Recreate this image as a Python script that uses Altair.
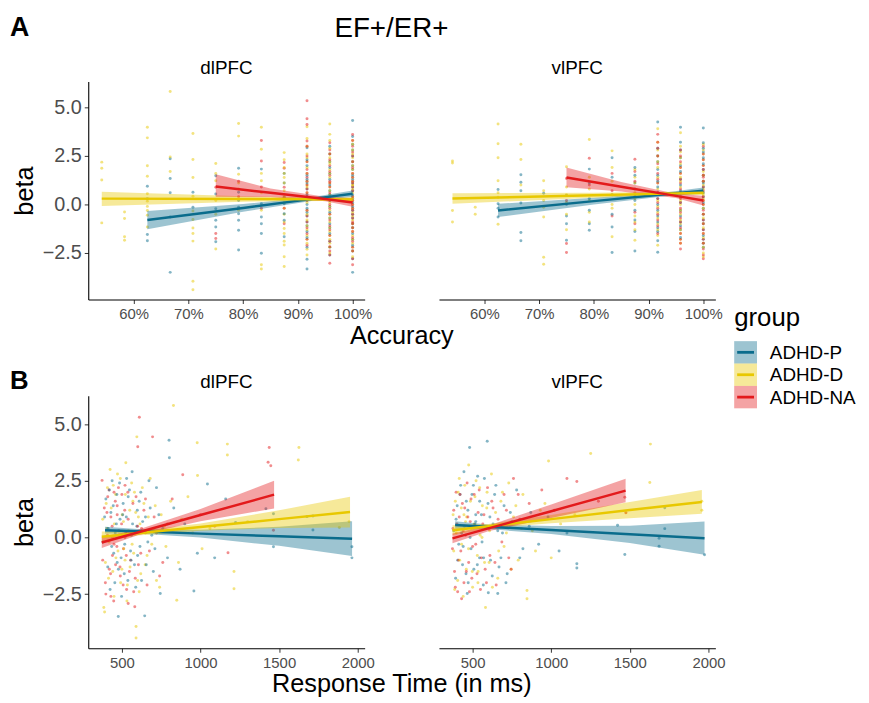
import altair as alt
import pandas as pd

GROUPS = ["ADHD-P", "ADHD-D", "ADHD-NA"]
LINE_COLORS = ["#0A6C8C", "#E8C800", "#E31A1C"]

ACC_TICKS = [0.6, 0.7, 0.8, 0.9, 1.0]
RT_TICKS = [500, 1000, 1500, 2000]
BETA_TICKS = [-2.5, 0.0, 2.5, 5.0]

# ---------------- Row A: accuracy (proportion correct) vs beta ----------------
A_DL_P = {
    0.625: [0.94, 0.29, -1.55, -1.87],
    0.6667: [2.35, 1.34, 0.6, -0.65, -3.5],
    0.7083: [0.63, -0.14],
    0.75: [1.48, 0.54, -0.22, -0.82, -1.16, -1.92],
    0.7917: [1.87, 0.63, 0.2, -0.14, -0.48, -0.82, -1.33, -2.35],
    0.8333: [1.82, 0.03, -0.65, -0.99, -1.5, -2.52],
    0.875: [0.37, 0.03, -0.48, -0.82, -1.67, 1.1, 1.6],
    0.9167: [2.92, 2.3, 1.5, 0.8, 0.3, -0.2, -0.9, -1.4, -2.82, -3.33, 1.1, -0.6,
             2.0, 1.3, 0.5, 0.0, -0.4, -1.1, -1.7, -2.2],
    0.9583: [2.6, 1.9, 1.3, 0.7, 0.2, -0.4, -1.0, -1.5, -2.6, 3.0,
             2.2, 1.6, 1.0, 0.5, -0.1, -0.7, -1.2, -1.9, -2.2],
    1.0: [4.32, 3.1, 2.5, 1.8, 1.3, 0.7, 0.3, -0.1, -0.5, -1.0, -1.5, -2.1, -3.5, 2.2, 0.9,
          3.5, 2.8, 2.0, 1.5, 1.1, 0.5, 0.1, -0.3, -0.7, -1.2, -1.8, -2.4, -2.8],
}
A_DL_D = {
    0.5417: [2.18, 1.87, 1.26, -0.95],
    0.5833: [-0.39, -0.73, -1.67, -1.84],
    0.625: [3.98, 3.43, 1.99, 1.45, 0.55, 0.17, -0.1, -0.31, -0.56, -1.16],
    0.6667: [5.82, 2.45, 1.7],
    0.7083: [3.66, 2.31, 1.39, 0.42, -0.34, -0.78, -1.21, -1.5, -1.89, -3.96, -4.39],
    0.75: [2.11, 1.22, 0.2, -2.3, 1.6, -0.5],
    0.7917: [4.17, 3.52, 1.56, 1.1, 0.8, -0.3],
    0.8333: [3.98, 2.84, 1.22, 0.6, -0.3, -3.11, -3.33, 1.6],
    0.875: [2.67, 1.39, -0.2, -1.24, -2.09, -2.69, -3.2, 0.7, 1.9, -0.9,
             2.3, 1.6, 1.1, 0.4, 0.1, -0.5, -1.5, -1.9],
    0.9167: [4.0, 3.4, 2.6, 1.9, 1.2, 0.6, 0.1, -0.5, -1.1, -1.6, -2.31, -2.0, 0.9, 2.2,
             3.0, 2.4, 1.6, 1.0, 0.3, -0.3, -0.8, -1.3, -1.8, -2.6],
    0.9583: [4.15, 3.61, 2.9, 2.4, 1.8, 1.4, 0.9, 0.5, 0.1, -0.3, -0.7, -1.2, -1.6, -2.0, 2.1, 1.1,
             3.3, 2.6, 2.2, 1.6, 0.7, 0.3, -0.1, -0.5, -0.9, -1.4, -1.8, -2.2, -2.5],
    1.0: [3.3, 2.8, 2.4, 2.0, 1.6, 1.2, 0.8, 0.4, 0.0, -0.4, -0.8, -1.2, -1.6, -2.0, -2.4, -2.7, 1.0, 0.2, -0.6,
          3.1, 2.6, 2.2, 1.8, 1.4, 1.0, 0.6, 0.3, -0.2, -1.0, -1.4, -1.8, -2.2],
}
A_DL_NA = {
    0.75: [0.88, -1.5, -1.75],
    0.7917: [1.2, 0.4],
    0.8333: [3.3, 2.24, 0.9, -0.2],
    0.875: [2.16, 1.87, 0.88, -0.2, -1.0],
    0.9167: [5.34, 4.42, 4.12, 3.27, 2.5, 1.8, 1.0, 0.4, -0.3, -0.9, -1.5, -2.1, 1.4, 0.6,
             3.0, 2.2, 1.6, 1.2, 0.8, 0.2, -0.6, -1.2, -1.8],
    0.9583: [3.18, 2.6, 2.0, 1.5, 0.9, 0.3, -0.2, -0.8, -1.3, -1.9, -2.18, -2.6, -3.03, 1.2,
             2.8, 2.3, 1.7, 1.1, 0.6, 0.0, -0.5, -1.1, -1.6, -2.4],
    1.0: [3.6, 3.0, 2.5, 1.9, 1.4, 0.9, 0.4, 0.0, -0.5, -0.9, -1.4, -1.9, -2.4, -3.11, 1.1, -0.2,
          3.3, 2.7, 2.2, 1.6, 1.2, 0.7, 0.2, -0.3, -0.7, -1.2, -1.7, -2.2, -2.8, -1.0],
}

A_VL_P = {
    0.625: [0.77, 0.03, -0.65, -0.2],
    0.6667: [1.53, 1.14, 0.71, 0.07, -1.45, -1.87],
    0.7083: [0.58],
    0.75: [0.46, 0.0, -0.99, -1.84, -0.6],
    0.7917: [1.82, 1.1, 0.3, -0.3, -1.0, -1.33],
    0.8333: [2.41, 1.4, 0.5, -0.5, -1.16, -2.48],
    0.875: [1.5, 0.8, 0.2, -0.8, -1.4, -2.4, 0.5, 1.9, 1.1, -0.3],
    0.9167: [4.25, 2.9, 2.2, 1.5, 0.9, 0.3, -0.3, -0.9, -1.4, -1.87, -2.46,
             2.5, 1.8, 1.2, 0.6, 0.0, -0.6, -1.2],
    0.9583: [3.98, 3.2, 2.4, 1.7, 1.0, 0.4, -0.3, -0.9, -1.3, -1.7,
             2.8, 2.0, 1.3, 0.7, 0.1, -0.6, -1.1],
    1.0: [3.94, 3.18, 2.7, 2.1, 1.5, 0.9, 0.4, -0.2, -0.8, -1.3, -1.8, -2.2, 1.2,
          2.9, 2.4, 1.8, 1.1, 0.6, 0.1, -0.5, -1.0, -1.6, -2.0],
}
A_VL_D = {
    0.5417: [2.24, 2.13, -0.31, -0.9],
    0.5833: [-0.14, -0.51],
    0.625: [4.15, 3.13, 2.41, 1.22, 0.37, -1.02, 0.6],
    0.6667: [3.1, 2.31, 1.0],
    0.7083: [1.22, 0.71, 0.2, -0.14, -0.65, -2.72, -3.08],
    0.75: [1.94, 0.9, 0.1, -0.5, -1.3, 0.5],
    0.7917: [3.35, 1.4, 0.8, 0.2, -0.4, -0.9],
    0.8333: [2.76, 1.9, 1.2, 0.5, -0.2, -1.67, 0.0],
    0.875: [1.8, 1.1, 0.6, 0.0, -0.6, -1.3, -1.84, 0.3, 1.4, -0.9],
    0.9167: [3.9, 3.2, 2.5, 1.9, 1.4, 0.8, 0.2, -0.4, -1.0, -1.6, -2.1, 0.5,
             2.8, 2.2, 1.1, -0.1, -0.7, -1.3],
    0.9583: [3.69, 3.0, 2.4, 1.9, 1.4, 0.9, 0.4, 0.0, -0.5, -1.0, -1.5, -2.0, 1.2,
             2.7, 2.1, 1.6, 0.6, 0.2, -0.3, -0.8, -1.3, -1.8],
    1.0: [3.1, 2.6, 2.0, 1.5, 1.0, 0.5, 0.0, -0.5, -1.0, -1.5, -2.0, -2.5, -2.69, 0.8, 0.2,
          2.8, 2.3, 1.7, 1.2, 0.6, 0.3, -0.2, -0.7, -1.2, -1.7, -2.2],
}
A_VL_NA = {
    0.75: [1.34, -2.01, -2.48, 0.2],
    0.7917: [2.38, 1.0],
    0.8333: [1.6, 0.7, -0.6],
    0.875: [2.33, 1.2, 0.4, -0.4, 1.7, -1.0],
    0.9167: [3.61, 2.9, 2.1, 1.6, 1.1, 0.6, 0.1, -0.5, -1.1, -1.5,
             3.2, 2.5, 1.3, 0.3, -0.2, -0.8],
    0.9583: [2.8, 2.2, 1.6, 1.1, 0.6, 0.1, -0.4, -0.9, -1.5, -2.0, -2.3,
             2.5, 1.9, 1.3, 0.8, 0.3, -0.2, -0.7, -1.2, -1.8],
    1.0: [3.0, 2.3, 1.8, 1.2, 0.7, 0.2, -0.3, -0.8, -1.3, -1.8, -2.3, -2.6, 1.5,
          2.6, 2.0, 1.4, 0.9, 0.4, 0.0, -0.5, -1.0, -1.5, -2.0, -2.8],
}

# ---------------- Row B: response time (ms) vs beta ----------------
B_DL_P = [(390, 0.9), (410, -1.3), (420, 2.1), (435, -0.4), (445, 1.4), (455, -2.0), (465, 0.6),
          (477, -3.49), (485, 2.4), (495, -0.9), (505, 1.0), (515, -1.6), (525, 0.2), (540, 1.8),
          (555, -0.6), (565, 2.9), (580, -1.2), (595, 0.5), (610, 1.6), (625, -1.9), (645, -3.46),
          (650, 0.9), (665, -0.2), (680, 1.3), (700, -1.5), (720, 2.2), (744, -2.47), (760, 0.4),
          (790, -0.9), (800, 4.29), (802, 3.52), (830, 1.3), (870, -1.4), (900, 0.6), (958, -2.36),
          (980, -0.7), (1044, 2.36), (1090, -0.9), (1160, 1.70), (1223, 0.66), (1416, 1.27),
          (1464, 1.05), (1464, -0.41), (1677, 0.92), (1715, 0.95), (1715, 0.33), (1963, -0.41),
          (1963, -0.9), (430, 1.1), (470, -1.1), (530, 2.6), (560, 0.1), (600, -0.8), (620, 2.0),
          (380, -0.2), (398, 1.7), (412, 0.4), (425, -2.3), (438, 2.5), (448, -0.7), (458, 0.2),
          (468, 1.9), (478, -1.4), (488, 0.8), (498, -2.6), (508, 1.5), (518, -0.3), (528, 0.9),
          (538, -1.9), (548, 2.1), (558, -1.0), (568, 0.6), (588, -2.2), (598, 1.2), (615, -0.4),
          (632, 0.7), (655, -1.2), (672, 2.5), (690, 0.1), (710, -0.5), (735, 1.0)]
B_DL_D = [(385, -3.09), (390, -3.29), (400, 1.5), (415, -1.8), (425, 3.0), (440, 0.0), (450, -2.6),
          (460, 1.9), (475, -0.6), (490, 2.6), (500, -1.4), (510, 0.7), (525, 3.3), (535, -2.1),
          (550, 1.2), (565, -0.3), (580, 2.0), (590, -4.44), (590, -3.93), (595, 4.44), (605, 0.9),
          (620, -1.6), (640, 1.5), (660, -0.8), (680, 2.6), (700, 0.3), (720, -1.9), (750, 1.0),
          (780, -0.4), (828, 5.82), (849, -2.77), (880, 0.8), (920, 1.8), (979, 4.18), (981, 2.74),
          (1010, -0.5), (1060, 0.4), (1171, 4.12), (1171, 3.64), (1213, -1.5), (1213, -2.26),
          (1300, 0.7), (1622, 3.42), (1626, 3.97), (1883, 0.44), (1945, 0.7), (405, 0.4),
          (445, 2.3), (520, -1.0), (570, 1.6), (610, -2.4), (650, 0.2),
          (378, 0.8), (395, -1.1), (408, 2.2), (418, -0.2), (432, 1.3), (442, -1.5), (452, 0.6),
          (462, -0.9), (472, 2.8), (482, 0.1), (492, -2.0), (502, 1.0), (512, -0.5), (522, 1.9),
          (532, -2.8), (542, 0.3), (552, -1.3), (562, 2.4), (575, -0.7), (588, 1.1), (600, -1.9),
          (615, 0.6), (630, 2.2), (648, -1.2), (668, 0.9), (690, -0.3), (712, 1.4), (740, -2.2),
          (770, 0.5), (810, 1.6), (860, -1.1), (950, 0.2)]
B_DL_NA = [(374, 2.52), (395, -2.0), (410, 1.8), (420, -1.4), (430, 0.9), (440, -0.8), (450, 2.0),
           (460, -1.2), (470, 1.4), (480, 0.3), (490, -1.7), (500, 1.9), (510, -0.5), (520, 2.3),
           (530, -2.3), (540, 0.8), (555, -1.0), (570, 1.5), (585, -1.8), (600, 0.5), (611, 5.31),
           (620, -0.7), (640, 1.2), (660, -2.1), (695, 4.44), (720, 0.2), (760, -1.1), (820, 1.7),
           (887, 2.77), (1000, 1.0), (1090, 0.5), (1175, -0.67), (1437, 3.97), (1447, 3.17),
           (1430, 3.32), (1464, 0.32), (540, -2.91), (582, -3.06), (450, -0.3), (470, 1.0),
           (405, 1.1), (430, -2.6), (520, 0.0), (601, 4.0),
           (378, -1.0), (388, 1.3), (398, -2.5), (408, 0.1), (418, 2.1), (428, -1.6), (438, 0.5),
           (448, -2.8), (458, 1.6), (468, -0.4), (478, 2.2), (488, -1.3), (498, 0.6), (508, -2.1),
           (518, 1.2), (528, -0.8), (538, 2.0), (548, -1.5), (560, 0.2), (575, -2.4), (590, 1.8),
           (605, -1.2), (625, 0.4), (650, 1.7), (675, -0.6), (705, 0.9), (740, -1.7), (790, 0.6)]

B_VL_P = [(395, 0.8), (405, -1.0), (420, 1.9), (430, 0.2), (445, 2.9), (458, -1.6), (466, -2.47),
          (470, 1.2), (481, 3.97), (490, -0.5), (505, 2.3), (515, 0.6), (530, -1.2), (545, 1.6),
          (560, -0.2), (575, 2.6), (593, 4.25), (600, -2.44), (610, 0.9), (625, -1.7), (640, 1.9),
          (660, -2.47), (660, 0.3), (680, -0.9), (700, 1.4), (720, -1.6), (750, 0.7), (780, 2.1),
          (820, -0.5), (870, 1.1), (920, -0.3), (980, 0.9), (1050, -0.6), (1100, 0.2), (1163, -1.16),
          (1163, -1.35), (1422, 0.54), (1468, -0.75), (1686, -0.03), (1686, -0.39), (1722, 0.39),
          (1722, 1.31), (1975, -0.76), (440, -0.4), (520, 1.0), (570, -0.9),
          (380, 0.3), (392, -1.8), (402, 1.4), (412, -0.3), (424, 2.3), (436, -1.2), (448, 0.5),
          (460, 1.6), (472, -2.0), (484, 0.0), (496, 1.9), (508, -1.4), (520, 0.7), (532, 2.7),
          (544, -0.9), (556, 1.0), (568, -2.1), (582, 0.4), (598, 1.5), (614, -1.0), (630, 0.6),
          (648, 2.3), (668, -1.3), (690, 0.2), (712, -2.0), (740, 1.1), (800, -0.9), (860, 0.5)]
B_VL_D = [(380, -0.6), (390, 1.6), (405, -1.9), (415, 2.6), (430, -0.3), (445, 1.0), (460, -1.4),
          (475, 3.2), (490, 0.4), (500, -2.2), (515, 1.8), (530, -0.8), (545, 2.2), (560, 0.0),
          (582, -3.09), (590, 1.3), (605, -1.1), (620, 2.8), (640, 0.5), (660, -1.8), (680, 1.6),
          (700, -0.4), (730, 2.4), (760, 0.9), (790, -1.0), (820, 1.9), (846, -2.34), (846, -2.7),
          (880, 0.3), (930, 1.2), (983, 3.38), (1000, -0.9), (1060, 0.6), (1150, 1.0), (1251, 3.71),
          (1475, 1.09), (1627, 2.43), (1631, 4.12), (1958, 1.6), (1958, 1.2), (455, 0.7), (535, -1.5),
          (376, 1.0), (386, -2.3), (396, 0.2), (408, 2.0), (418, -1.0), (428, 1.3), (440, -2.6),
          (450, 2.3), (462, 0.9), (474, -0.5), (486, 1.6), (498, -1.5), (510, 0.6), (522, 2.5),
          (534, -2.0), (548, 0.1), (562, 1.4), (576, -1.1), (592, 2.0), (608, 0.3), (626, -2.2),
          (646, 1.1), (666, -0.6), (690, 2.0), (715, 0.2), (745, -1.4), (775, 1.4), (810, 0.4),
          (900, -0.6), (960, 1.5)]
B_VL_NA = [(375, 0.4), (385, -1.5), (395, 2.0), (405, -2.4), (415, 0.9), (425, -0.6), (435, 1.5),
           (445, -2.0), (455, 0.1), (465, 2.4), (475, -1.1), (485, 0.7), (495, -1.8), (510, 1.9),
           (520, -0.3), (535, 1.1), (550, -2.3), (565, 0.6), (580, -1.4), (595, 2.2), (610, -0.8),
           (630, 1.3), (650, -2.1), (670, 0.5), (700, 1.9), (730, -0.9), (760, 2.6), (800, 0.8),
           (860, 1.5), (940, 2.1), (1020, 1.2), (1100, 2.6), (1163, 2.47), (1300, 1.6), (1468, 1.78),
           (1475, 1.09),
           (372, -0.5), (380, 1.2), (390, -2.2), (400, 0.6), (410, -1.0), (420, 1.9), (430, -2.7),
           (440, 0.3), (450, 1.3), (460, -1.5), (470, 0.9), (480, -2.4), (490, 1.7), (500, -0.4),
           (515, 0.5), (528, -1.6), (542, 2.1), (556, -0.9), (572, 1.0), (588, -2.0), (604, 0.4),
           (622, 1.6), (642, -1.1), (662, 0.8), (686, -0.2), (715, 1.2), (745, -1.4), (790, 1.9)]

# ---------------- Linear fits with 95% bands: (x, lower, fit, upper) ----------------
A_DL_FIT = {
    "ADHD-P": [(0.625, -1.28, -0.80, -0.34), (0.80, -0.38, -0.18, 0.02), (0.93, 0.20, 0.30, 0.40), (1.0, 0.38, 0.55, 0.72)],
    "ADHD-D": [(0.5417, -0.08, 0.30, 0.66), (0.80, 0.14, 0.28, 0.42), (0.95, 0.18, 0.27, 0.36), (1.0, 0.15, 0.26, 0.37)],
    "ADHD-NA": [(0.75, 0.40, 0.92, 1.55), (0.85, 0.38, 0.60, 0.82), (0.95, 0.16, 0.28, 0.40), (1.0, -0.12, 0.10, 0.32)],
}
A_VL_FIT = {
    "ADHD-P": [(0.625, -0.65, -0.31, 0.03), (0.80, 0.0, 0.17, 0.34), (0.93, 0.42, 0.52, 0.62), (1.0, 0.55, 0.71, 0.87)],
    "ADHD-D": [(0.5417, 0.04, 0.31, 0.58), (0.80, 0.34, 0.47, 0.60), (0.95, 0.48, 0.57, 0.66), (1.0, 0.48, 0.60, 0.72)],
    "ADHD-NA": [(0.75, 0.88, 1.39, 1.90), (0.85, 0.67, 0.91, 1.15), (0.95, 0.33, 0.44, 0.55), (1.0, -0.05, 0.20, 0.45)],
}
B_DL_FIT = {
    "ADHD-P": [(393, 0.17, 0.32, 0.47), (600, 0.17, 0.27, 0.37), (1000, 0.0, 0.17, 0.34), (1500, -0.37, 0.05, 0.47), (1964, -0.82, -0.06, 0.72)],
    "ADHD-D": [(372, -0.20, 0.03, 0.26), (600, 0.09, 0.19, 0.29), (1000, 0.30, 0.46, 0.62), (1500, 0.42, 0.81, 1.20), (1951, 0.44, 1.12, 1.80)],
    "ADHD-NA": [(372, -0.46, -0.22, 0.02), (600, 0.10, 0.22, 0.34), (1000, 0.72, 0.99, 1.26), (1468, 1.28, 1.89, 2.50)],
}
B_VL_FIT = {
    "ADHD-P": [(389, 0.38, 0.55, 0.72), (600, 0.37, 0.47, 0.57), (1000, 0.15, 0.33, 0.51), (1500, -0.24, 0.14, 0.52), (1975, -0.76, -0.03, 0.70)],
    "ADHD-D": [(372, 0.10, 0.32, 0.54), (600, 0.40, 0.50, 0.60), (1000, 0.63, 0.81, 0.99), (1500, 0.85, 1.21, 1.57), (1958, 1.05, 1.57, 2.09)],
    "ADHD-NA": [(372, -0.26, -0.04, 0.18), (600, 0.28, 0.40, 0.52), (1000, 0.86, 1.16, 1.46), (1473, 1.55, 2.07, 2.59)],
}

FONT = "Liberation Sans"
W = 279
HA, HB = 220, 255
ACC_DOMAIN = [0.517, 1.022]
RT_DOMAIN = [286, 2044]
YA_DOMAIN = [-4.9, 6.33]
YB_DOMAIN = [-4.89, 6.26]

COLOR = alt.Color("group:N", scale=alt.Scale(domain=GROUPS, range=LINE_COLORS), legend=None)


def acc_points(p, d, na):
    rows = []
    for g, dct in zip(GROUPS, [p, d, na]):
        for acc, betas in dct.items():
            for b in betas:
                rows.append({"x": acc, "beta": b, "group": g})
    return pd.DataFrame(rows).sort_values(["x", "beta"], kind="stable")


def rt_points(p, d, na):
    rows = []
    for g, lst in zip(GROUPS, [p, d, na]):
        for x, b in lst:
            rows.append({"x": x, "beta": b, "group": g})
    return pd.DataFrame(rows).sort_values("x", kind="stable")


def fit_frame(fits):
    rows = []
    for g in GROUPS:
        for x, lo, fit, hi in fits[g]:
            rows.append({"x": x, "lo": lo, "fit": fit, "hi": hi, "group": g})
    return pd.DataFrame(rows)


def text_layer(txt, x, y, size, weight="normal", align="left", color="black"):
    return alt.Chart(pd.DataFrame({"t": [txt]})).mark_text(
        align=align, baseline="alphabetic", fontSize=size, fontWeight=weight,
        font=FONT, color=color,
    ).encode(x=alt.value(x), y=alt.value(y), text="t:N")


def panel(pts, fits, xdom, ydom, h, xticks, xfmt, left, xtitle=""):
    xs = alt.Scale(domain=xdom, nice=False, zero=False)
    ys = alt.Scale(domain=ydom, nice=False, zero=False)
    xkw = dict(values=xticks, format=xfmt, labelFontSize=15, labelColor="#4D4D4D",
               tickSize=4, tickColor="#333333", labelPadding=3,
               domainColor="black", domainWidth=1.1, grid=False, labelFlush=False)
    if xtitle:
        xkw.update(title=xtitle, titleFontSize=25.5, titleFontWeight="normal", titleColor="black",
                   titleX=316, titleY=44, titleAlign="center", titleBaseline="alphabetic",
                   titleAnchor="middle")
    else:
        xkw.update(title=None)
    xaxis = alt.Axis(**xkw)
    if left:
        yaxis = alt.Axis(values=BETA_TICKS, format=".1f", labelFontSize=20, labelColor="#4D4D4D",
                         tickSize=4, tickColor="#333333", labelPadding=3,
                         domainColor="black", domainWidth=1.1, grid=False,
                         title="beta", titleFontSize=25.5, titleFontWeight="normal", titleColor="black",
                         titleX=-56, titleY=h / 2, titleAngle=270, titleAlign="center",
                         titleBaseline="alphabetic", labelFlush=False)
    else:
        yaxis = None
    pts_layer = alt.Chart(pts).mark_circle(size=9, opacity=0.5).encode(
        x=alt.X("x:Q", scale=xs, axis=xaxis),
        y=alt.Y("beta:Q", scale=ys, axis=yaxis),
        color=COLOR,
    )
    ff = fit_frame(fits)
    band = alt.Chart(ff).mark_area(opacity=0.4).encode(
        x=alt.X("x:Q", scale=xs), y=alt.Y("lo:Q", scale=ys), y2="hi:Q", color=COLOR,
    )
    line = alt.Chart(ff).mark_line(strokeWidth=2.5).encode(
        x=alt.X("x:Q", scale=xs), y=alt.Y("fit:Q", scale=ys), color=COLOR,
    )
    return [pts_layer, band, line]


def legend_layers():
    lx = 298
    layers = [text_layer("group", lx, 247, 26)]
    for i, g in enumerate(GROUPS):
        top = 262 + 22.6 * i
        df = pd.DataFrame({"group": [g]})
        layers.append(alt.Chart(df).mark_rect(opacity=0.4).encode(
            x=alt.value(lx), x2=alt.value(lx + 23), y=alt.value(top), y2=alt.value(top + 22.6),
            color=COLOR))
        layers.append(alt.Chart(df).mark_rule(strokeWidth=2.8).encode(
            x=alt.value(lx + 3), x2=alt.value(lx + 20), y=alt.value(top + 11.3), color=COLOR))
        layers.append(alt.Chart(df).mark_text(
            align="left", baseline="middle", fontSize=19, font=FONT, color="black").encode(
            x=alt.value(lx + 36), y=alt.value(top + 12), text="group:N"))
    return layers


a1 = alt.layer(
    *panel(acc_points(A_DL_P, A_DL_D, A_DL_NA), A_DL_FIT, ACC_DOMAIN, YA_DOMAIN, HA,
           ACC_TICKS, ".0%", True, "Accuracy"),
    text_layer("A", -79, -46, 27, weight="bold"),
    text_layer("EF+/ER+", 306, -45, 28, align="center"),
    text_layer("dlPFC", W / 2, -8, 19, align="center"),
).properties(width=W, height=HA)

a2 = alt.layer(
    *panel(acc_points(A_VL_P, A_VL_D, A_VL_NA), A_VL_FIT, ACC_DOMAIN, YA_DOMAIN, HA,
           ACC_TICKS, ".0%", False),
    text_layer("vlPFC", W / 2, -8, 19, align="center"),
    *legend_layers(),
).properties(width=W, height=HA)

b1 = alt.layer(
    *panel(rt_points(B_DL_P, B_DL_D, B_DL_NA), B_DL_FIT, RT_DOMAIN, YB_DOMAIN, HB,
           RT_TICKS, "d", True, "Response Time (in ms)"),
    text_layer("B", -79, -7, 26, weight="bold"),
    text_layer("dlPFC", W / 2, -8, 19, align="center"),
).properties(width=W, height=HB)

b2 = alt.layer(
    *panel(rt_points(B_VL_P, B_VL_D, B_VL_NA), B_VL_FIT, RT_DOMAIN, YB_DOMAIN, HB,
           RT_TICKS, "d", False),
    text_layer("vlPFC", W / 2, -8, 19, align="center"),
).properties(width=W, height=HB)

chart = alt.concat(
    a1, a2, b1, b2, columns=2, spacing={"row": 97, "column": 75}, bounds="flush",
).properties(
    padding={"left": 2, "top": 3, "right": 5, "bottom": 5},
    background="white",
).configure(font=FONT).configure_view(stroke=None)

chart.save("out.html", embed_options={"renderer": "svg", "actions": False})
